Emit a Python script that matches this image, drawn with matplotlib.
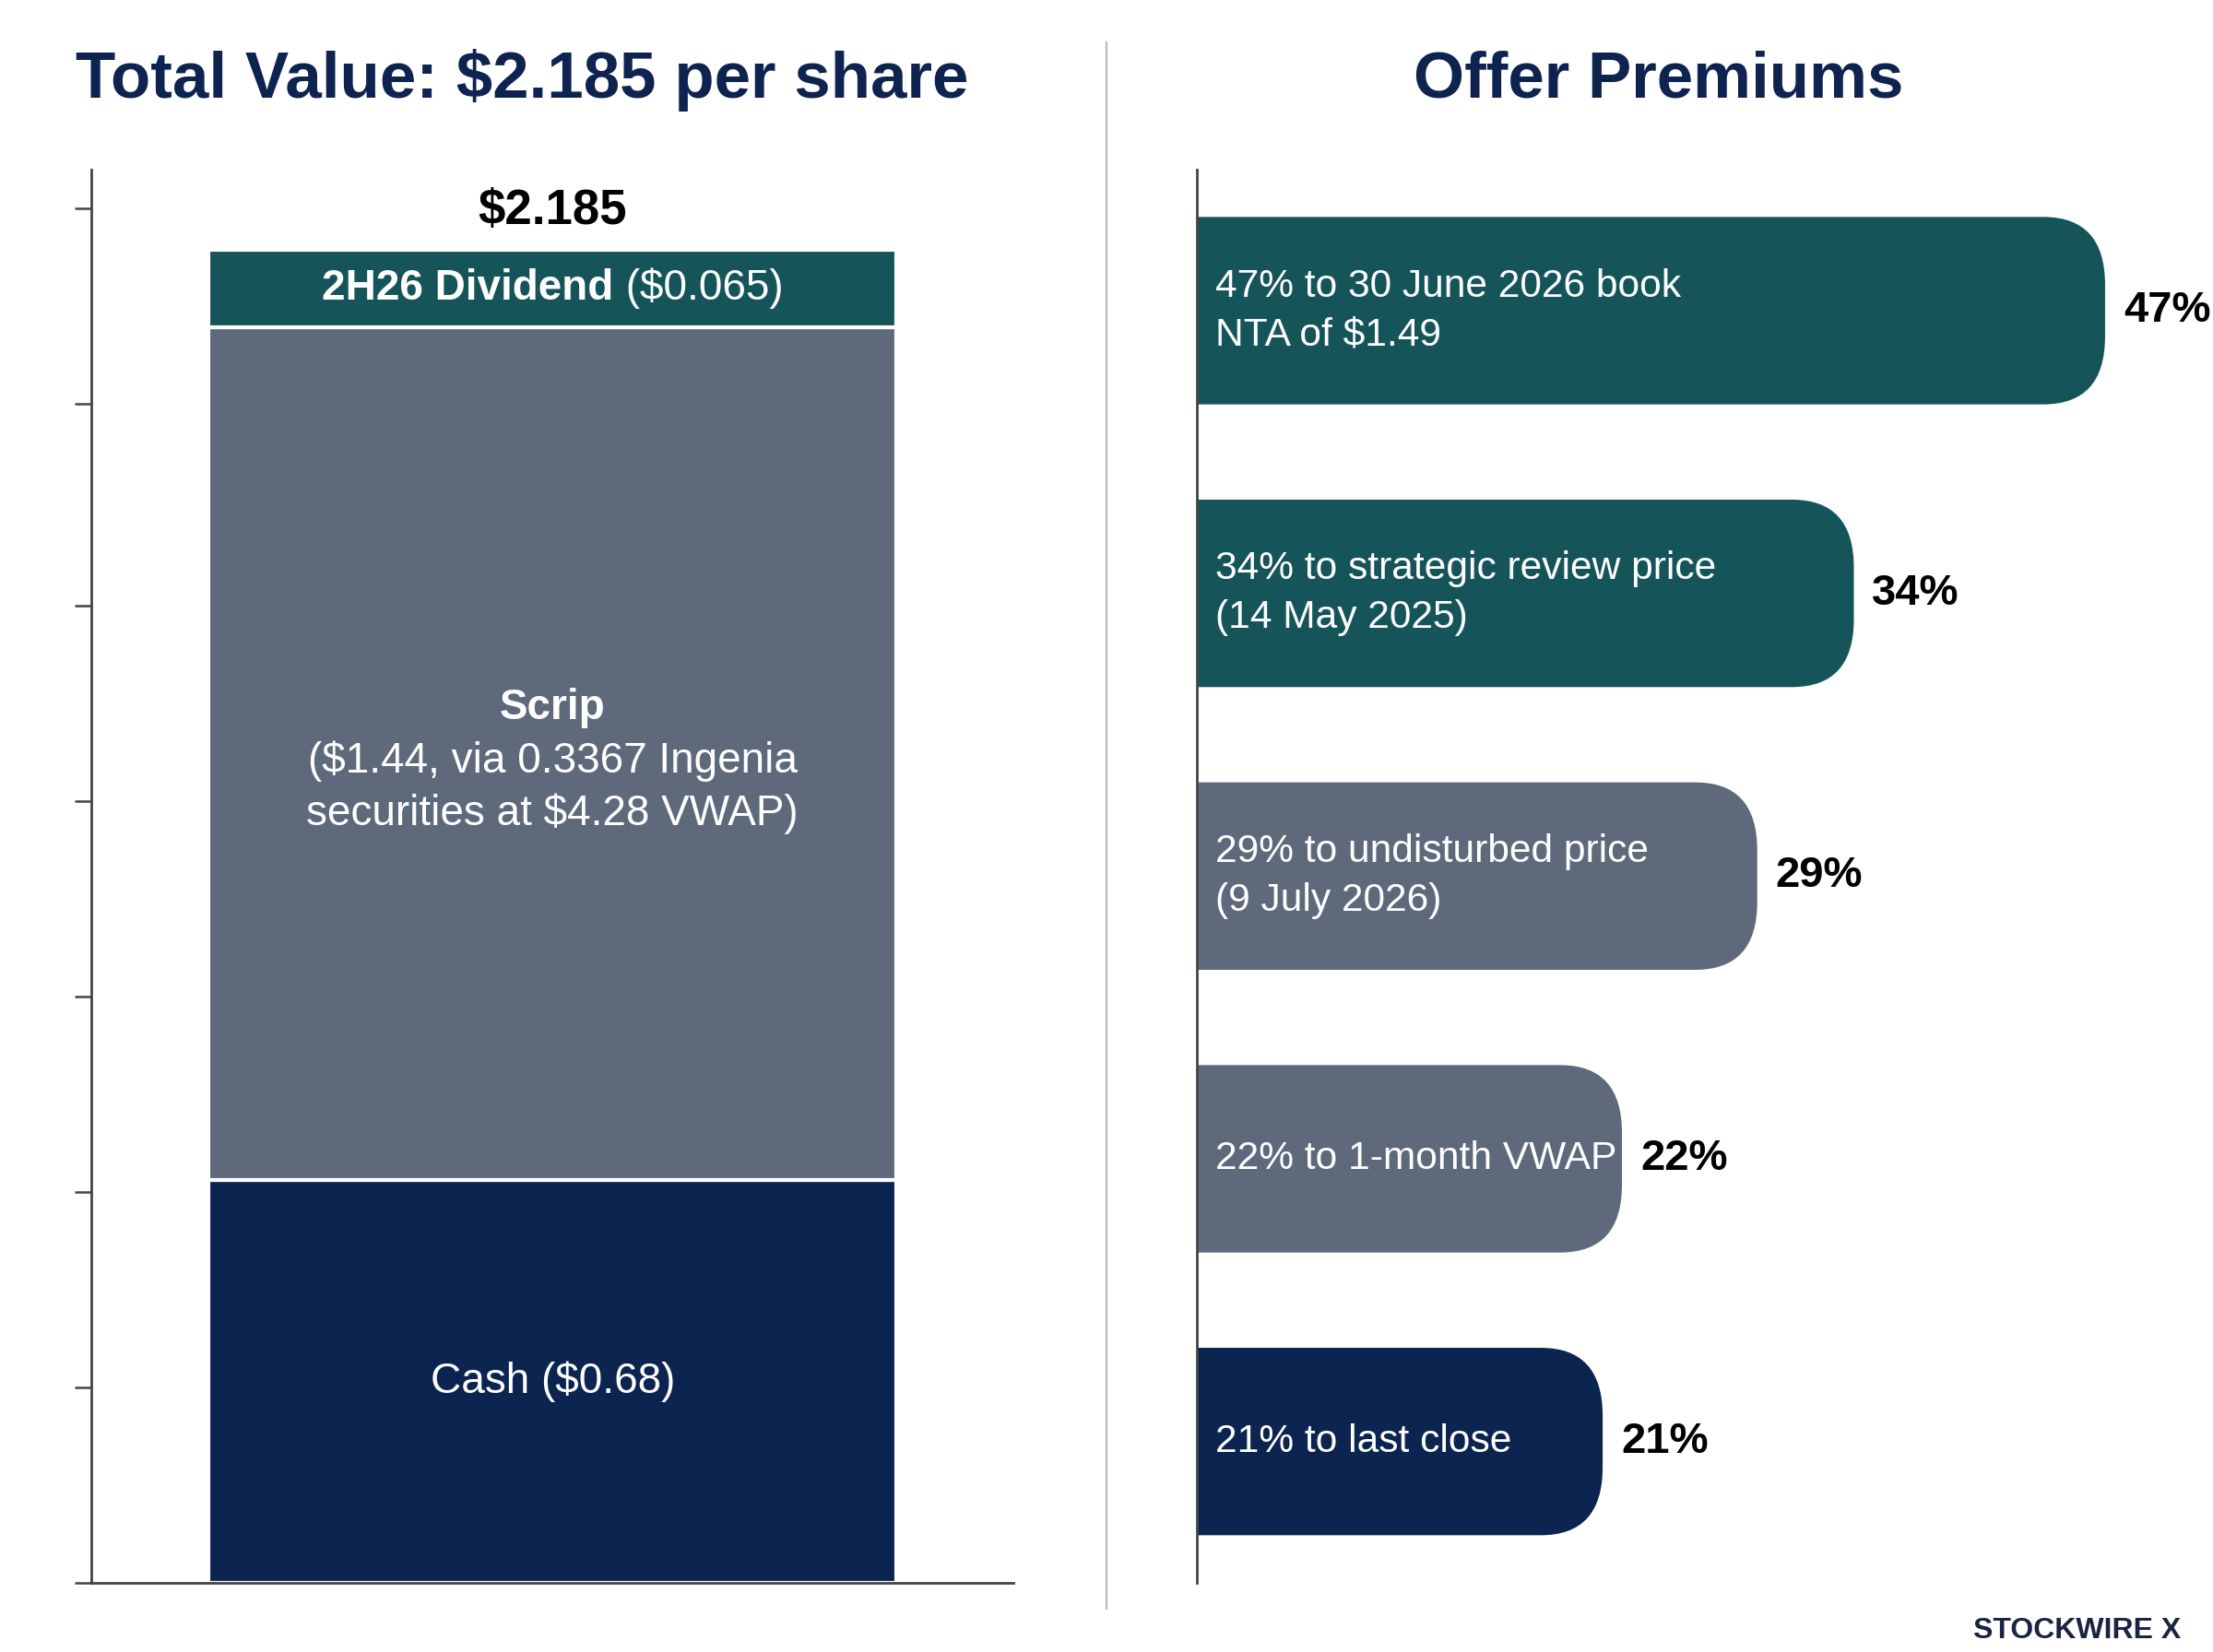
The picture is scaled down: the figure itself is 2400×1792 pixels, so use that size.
import matplotlib
matplotlib.use("Agg")
import matplotlib.pyplot as plt
from matplotlib.patches import FancyBboxPatch
from matplotlib.lines import Line2D

plt.rcParams['font.family'] = ['Liberation Sans', 'DejaVu Sans']

# ---------------- data ----------------
seg_names = ["Cash", "Scrip", "2H26 Dividend"]
seg_values = [0.68, 1.44, 0.065]
seg_colors = ["#0B2550", "#5E697C", "#15555A"]
total_value = 2.185
total_label = "$2.185"
left_ticks = [0, 0.33, 0.66, 0.99, 1.32, 1.65, 1.99, 2.32]

prem_values = [47, 34, 29, 22, 21]
prem_labels = ["47% to 30 June 2026 book\nNTA of $1.49",
               "34% to strategic review price\n(14 May 2025)",
               "29% to undisturbed price\n(9 July 2026)",
               "22% to 1-month VWAP",
               "21% to last close"]
prem_value_labels = ["47%", "34%", "29%", "22%", "21%"]
prem_colors = ["#15555A", "#15555A", "#5E697C", "#5E697C", "#0B2550"]

TITLE_COLOR = "#0E2350"
W, H = 1568.0, 1171.0
# smallest drawn height for a labelled segment so its label stays legible
MIN_SEG_HEIGHT = 0.13

fig = plt.figure(figsize=(12, 8.96), dpi=200)
fig.patch.set_facecolor("white")

# ---------------- left panel ----------------
axL = fig.add_axes([65 / W, 1 - 1122 / H, (718 - 65) / W, (1122 - 120) / H])
draw_h = [max(v, MIN_SEG_HEIGHT) for v in seg_values]
bottoms = [0]
for v in draw_h[:-1]:
    bottoms.append(bottoms[-1] + v)
axL.bar([0] * 3, draw_h, bottom=bottoms, width=1.0, color=seg_colors,
        edgecolor="white", linewidth=1.5, zorder=2)
stack_top = bottoms[-1] + draw_h[-1]
axL.set_xlim(-0.67, 0.67)
axL.set_ylim(0, 2.386)
axL.set_xticks([])
axL.set_yticks(left_ticks)
axL.set_yticklabels([])
axL.tick_params(axis="y", direction="out", length=6.5, width=0.9, color="#444444")
for s in ["top", "right"]:
    axL.spines[s].set_visible(False)
for s in ["left", "bottom"]:
    axL.spines[s].set_color("#444444")
    axL.spines[s].set_linewidth(1.0)

FS = 16.5
renderer = fig.canvas.get_renderer()


def mixed_line(ax, cx, y, bold, regular, fs, color="white"):
    t1 = ax.text(cx, y, bold, ha="left", va="center", fontsize=fs,
                 fontweight="bold", color=color, zorder=5)
    t2 = ax.text(cx, y, regular, ha="left", va="center", fontsize=fs,
                 color=color, zorder=5)
    w1 = t1.get_window_extent(renderer).width
    w2 = t2.get_window_extent(renderer).width
    px_c = ax.transData.transform((cx, y))
    inv = ax.transData.inverted()
    t1.set_x(inv.transform((px_c[0] - (w1 + w2) / 2, px_c[1]))[0])
    t2.set_x(inv.transform((px_c[0] - (w1 + w2) / 2 + w1, px_c[1]))[0])


# Cash label
cash_c = bottoms[0] + draw_h[0] / 2
axL.text(0, cash_c, "Cash ($0.68)", ha="center", va="center", fontsize=FS,
         color="white", zorder=5)
# Scrip label (three lines)
scrip_c = bottoms[1] + draw_h[1] / 2
LS = 20.7
scrip_lines = [("Scrip", "bold"), ("($1.44, via 0.3367 Ingenia", "normal"),
               ("securities at $4.28 VWAP)", "normal")]
for i, (txt, wt) in enumerate(scrip_lines):
    axL.annotate(txt, xy=(0, scrip_c), xytext=(0, LS * (1 - i) - 3),
                 textcoords="offset points", ha="center", va="center",
                 fontsize=FS, fontweight=wt, color="white", zorder=5)
# Dividend label
div_c = bottoms[2] + draw_h[2] / 2
mixed_line(axL, 0, div_c, "2H26 Dividend", " ($0.065)", FS)
# Total
axL.annotate(total_label, xy=(0, stack_top), xytext=(0, 15),
             textcoords="offset points", ha="center", va="center",
             fontsize=19, fontweight="bold", color="black")

# ---------------- right panel ----------------
axR = fig.add_axes([848 / W, 1 - 1122 / H, (1560 - 848) / W, (1122 - 120) / H])
ypos = list(range(len(prem_values)))
bar_h = 0.663
bars = axR.barh(ypos, prem_values, height=bar_h, color=prem_colors)
axR.set_xlim(0, 52.0)
axR.set_ylim(4.5, -0.5)
r = 3.2
ma = 0.24 / r
for b in bars:
    x0, y0 = b.get_x(), b.get_y()
    w, h = b.get_width(), b.get_height()
    fc = b.get_facecolor()
    b.remove()
    p = FancyBboxPatch((x0 - r, y0), w + r, h,
                       boxstyle=f"round,pad=0,rounding_size={r}",
                       mutation_aspect=ma, facecolor=fc, edgecolor="none", zorder=2)
    axR.add_patch(p)

for y, v, lab, vl in zip(ypos, prem_values, prem_labels, prem_value_labels):
    axR.text(0.95, y, lab, ha="left", va="center", fontsize=15.3, color="white",
             linespacing=1.4, zorder=5)
    axR.text(v + 0.95, y, vl, ha="left", va="center", fontsize=17,
             fontweight="bold", color="black", zorder=5)

axR.set_xticks([])
axR.set_yticks([])
for s in ["top", "right", "bottom"]:
    axR.spines[s].set_visible(False)
axR.spines["left"].set_color("#444444")
axR.spines["left"].set_linewidth(1.0)

# ---------------- titles, divider, watermark ----------------
fig.text(370 / W, 1 - 57 / H, "Total Value: $2.185 per share", ha="center",
         va="center", fontsize=25.5, fontweight="bold", color=TITLE_COLOR)
fig.text(1175 / W, 1 - 57 / H, "Offer Premiums", ha="center", va="center",
         fontsize=25.5, fontweight="bold", color=TITLE_COLOR)
fig.add_artist(Line2D([784 / W, 784 / W], [1 - 1140 / H, 1 - 30 / H],
                      transform=fig.transFigure, color="#BBBBBB", linewidth=0.8))
fig.text(1545 / W, 1 - 1156 / H, "STOCKWIRE X", ha="right", va="center",
         fontsize=11.5, fontweight="bold", color="#1A2340")

fig.savefig("out.png", dpi=200, facecolor="white")
